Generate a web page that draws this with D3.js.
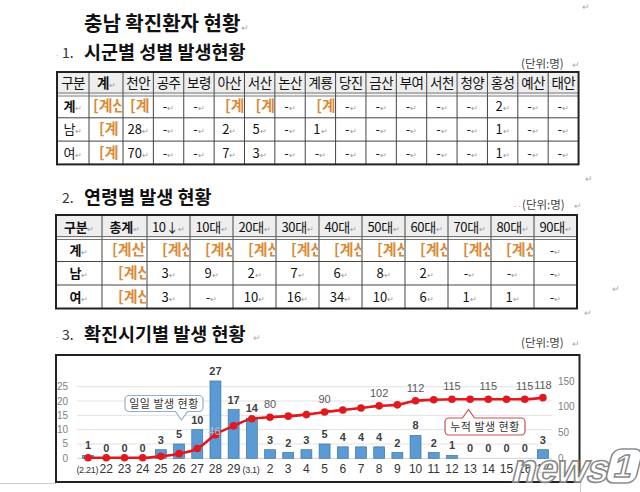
<!DOCTYPE html>
<html>
<head>
<meta charset="utf-8">
<script src="https://cdn.jsdelivr.net/npm/d3@7"></script>
<style>
body{margin:0;background:#fff;}
svg{display:block;font-family:"Noto Sans CJK KR",sans-serif;}
</style>
</head>
<body>
<div id="chart"></div>
<script>
// 1. 시군별 성별 발생현황
var regions = ['계','천안','공주','보령','아산','서산','논산','계룡','당진','금산','부여','서천','청양','홍성','예산','태안'];
var totalByRegion  = ['[계산식]','[계산식]','-','-','[계산식]','[계산식]','-','[계산식]','-','-','-','-','-','2','-','-'];
var maleByRegion   = ['[계산식]','28','-','-','2','5','-','1','-','-','-','-','-','1','-','-'];
var femaleByRegion = ['[계산식]','70','-','-','7','3','-','-','-','-','-','-','-','1','-','-'];

// 2. 연령별 발생 현황
var ages = ['총계','10↓','10대','20대','30대','40대','50대','60대','70대','80대','90대'];
var totalByAge  = ['[계산식]','[계산식]','[계산식]','[계산식]','[계산식]','[계산식]','[계산식]','[계산식]','[계산식]','[계산식]','-'];
var maleByAge   = ['[계산식]','3','9','2','7','6','8','2','-','-','-'];
var femaleByAge = ['[계산식]','3','-','10','16','34','10','6','1','1','-'];

// 3. 확진시기별 발생 현황
var dates = ['(2.21)','22','23','24','25','26','27','28','29','(3.1)','2','3','4','5','6','7','8','9','10','11','12','13','14','15','16','17'];
var daily = [1,0,0,0,3,5,10,27,17,14,3,2,3,5,4,4,4,2,8,2,1,0,0,0,0,3];
var cumulative = [1,1,1,1,4,9,19,46,63,77,80,82,85,90,94,98,102,104,112,114,115,115,115,115,115,118];
var cumLabelDates = ['28','2','5','8','10','12','14','16','17'];
var leftTicks = [0,5,10,15,20,25];
var rightTicks = [0,50,100,150];

var svg = d3.select('#chart').append('svg').attr('width',640).attr('height',492);
svg.append('rect').attr('width',640).attr('height',492).attr('fill','#fff');

// 문단 기호
function mark(x, y){
    svg.append('text').attr('x',x).attr('y',y).attr('font-size',9).attr('fill','#aaa').text('↵');
}

// 제목
svg.append('text').attr('x',84).attr('y',31).attr('font-size',20).attr('font-weight',700).attr('fill','#111').text('충남 확진환자 현황');
mark(241,31);

function sectionTitle(num, title, y){
    svg.append('text').attr('x',55).attr('y',y).attr('font-size',8).attr('fill','#aaa').text('·');
    svg.append('text').attr('x',62).attr('y',y).attr('font-size',14).attr('fill','#333').text(num);
    svg.append('text').attr('x',84).attr('y',y+1).attr('font-size',18.5).attr('font-weight',700).attr('fill','#111').text(title);
}
function unitLabel(x, y){
    svg.append('text').attr('x',x).attr('y',y).attr('font-size',11.5).attr('fill','#444').text('(단위:명)');
}

sectionTitle('1.', '시군별 성별 발생현황', 58);
unitLabel(521,68);
mark(572,68);

var clipId = 0;
function drawTable(opt){
    var g = svg.append('g');
    var xs = [opt.x];
    opt.widths.forEach(function(w,i){ xs.push(xs[i]+w); });
    var ys = [opt.y];
    opt.heights.forEach(function(h,i){ ys.push(ys[i]+h); });
    var right = xs[xs.length-1], bottom = ys[ys.length-1];

    // 머리행 배경
    g.append('rect').attr('x',xs[0]).attr('y',ys[0]).attr('width',right-xs[0]).attr('height',ys[1]-ys[0]).attr('fill','#eeeeee');

    // 셀 목록
    var cells = [];
    opt.rows.forEach(function(row, r){
        row.forEach(function(v, c){
            cells.push({r:r, c:c, v:v, x:xs[c], y:ys[r], w:xs[c+1]-xs[c], h:ys[r+1]-ys[r]});
        });
    });

    // 격자
    g.selectAll('line.v').data(xs.slice(1,-1)).enter().append('line')
        .attr('x1',function(d){return d;}).attr('x2',function(d){return d;})
        .attr('y1',ys[0]).attr('y2',bottom).attr('stroke','#444').attr('stroke-width',1);
    g.selectAll('line.h').data(ys.slice(2,-1)).enter().append('line')
        .attr('x1',xs[0]).attr('x2',right)
        .attr('y1',function(d){return d;}).attr('y2',function(d){return d;})
        .attr('stroke','#444').attr('stroke-width',1);
    // 머리행 이중선
    [ys[1]-1.5, ys[1]+1.5].forEach(function(yy){
        g.append('line').attr('x1',xs[0]).attr('x2',right).attr('y1',yy).attr('y2',yy).attr('stroke','#666').attr('stroke-width',0.9);
    });
    g.append('rect').attr('x',xs[0]).attr('y',ys[0]).attr('width',right-xs[0]).attr('height',bottom-ys[0])
        .attr('fill','none').attr('stroke','#222').attr('stroke-width',2);

    cells.forEach(function(d){
        var bold = opt.isBold(d);
        if(d.v.charAt(0) === '['){
            // 잘린 계산식 필드
            var id = 'clip' + (clipId++);
            g.append('clipPath').attr('id',id).append('rect')
                .attr('x',d.x+1).attr('y',d.y+1).attr('width',d.w-2).attr('height',d.h-2);
            var ft = g.append('text').attr('clip-path','url(#'+id+')')
                .attr('x',d.x+opt.fieldOffset(d)).attr('y',d.y+d.h/2+5)
                .attr('font-size',15).attr('font-weight',700).attr('fill','#d98a3a')
                .text(d.v);
            // 셀 밖으로 많이 나가는 글자는 버림
            var node = ft.node(), s = d.v;
            while(s.length > 1 && node.getStartPositionOfChar(s.length-1).x > d.x + d.w - 6){
                s = s.slice(0,-1);
                ft.text(s);
            }
        } else {
            var t = g.append('text').attr('x',d.x+d.w/2).attr('y',d.y+d.h/2+5)
                .attr('text-anchor','middle').attr('fill','#111')
                .attr('font-size',d.r===0 ? opt.headSize : 13)
                .attr('font-weight',bold?700:400)
                .attr('letter-spacing',d.r===0 ? opt.headSpacing : 0);
            t.append('tspan').text(d.v);
            if(opt.marks(d)) t.append('tspan').attr('font-size',8).attr('font-weight',400).attr('fill','#999').text('↵');
        }
    });
}

drawTable({
    x:57, y:72,
    widths:[32,34].concat(d3.range(15).map(function(){return 30.37;})),
    heights:[22.5,23.3,23.3,23.3],
    rows:[['구분'].concat(regions), ['계'].concat(totalByRegion), ['남'].concat(maleByRegion), ['여'].concat(femaleByRegion)],
    headSize:13.5, headSpacing:-0.6,
    fieldOffset:function(d){ return d.c===1 ? (d.r===1 ? 4 : 10) : (d.c===2 ? 7 : 11); },
    isBold:function(d){ return (d.r===0 && d.c===1) || (d.c===0 && d.r===1); },
    marks:function(d){ return !(d.r===0 && d.c!==1); }
});
mark(582,10);

sectionTitle('2.', '연령별 발생 현황', 203);
svg.append('text').attr('x',513).attr('y',209).attr('font-size',8).attr('fill','#999').text('··');
unitLabel(522,209);
mark(574,209);
mark(585,182);

drawTable({
    x:56, y:215,
    widths:[46,45].concat(d3.range(10).map(function(){return 43;})),
    heights:[23,23.5,23.5,23.5],
    rows:[['구분'].concat(ages), ['계'].concat(totalByAge), ['남'].concat(maleByAge), ['여'].concat(femaleByAge)],
    headSize:13, headSpacing:-0.3,
    fieldOffset:function(d){ return d.c===1 ? (d.r===1 ? 10 : 16) : 15; },
    isBold:function(d){ return (d.r===0 && d.c<2) || (d.c===0 && d.r>0); },
    marks:function(d){ return true; }
});
mark(612,292);
mark(584,316);

sectionTitle('3.', '확진시기별 발생 현황', 340);
mark(253,341);
unitLabel(521,347);
mark(572,347);

// 3. 차트
var chartBox = svg.append('g');
chartBox.append('line').attr('x1',0).attr('x2',56).attr('y1',483.5).attr('y2',483.5).attr('stroke','#ccc');
chartBox.append('line').attr('x1',580.5).attr('x2',580.5).attr('y1',482).attr('y2',492).attr('stroke','#ccc');

var x = d3.scaleBand().domain(dates).range([79,552]).paddingInner(0.4).paddingOuter(0.2);
var yL = d3.scaleLinear().domain([0,30]).range([458.3,372.4]);
var yR = d3.scaleLinear().domain([0,150]).range([458.3,381.2]);
var cx = function(d){ return x(d) + x.bandwidth()/2; };

var plot = svg.append('g');

// 격자선
plot.selectAll('line.grid').data(leftTicks.slice(1)).enter().append('line')
    .attr('x1',77).attr('x2',552)
    .attr('y1',function(d){return yL(d);}).attr('y2',function(d){return yL(d);})
    .attr('stroke','#e2e2e2').attr('stroke-width',1);
plot.append('line').attr('x1',77).attr('x2',552).attr('y1',yL(0)).attr('y2',yL(0)).attr('stroke','#d0d0d0');

// 축 눈금
plot.selectAll('text.yl').data(leftTicks).enter().append('text')
    .attr('x',68).attr('y',function(d){return yL(d)+3.5;})
    .attr('text-anchor','end').attr('font-family','Liberation Sans, sans-serif').attr('font-size',10).attr('fill','#808080')
    .text(function(d){return d;});
plot.selectAll('text.yr').data(rightTicks).enter().append('text')
    .attr('x',558).attr('y',function(d){return yR(d)+3.5;})
    .attr('font-family','Liberation Sans, sans-serif').attr('font-size',10).attr('fill','#808080')
    .text(function(d){return d;});

// 막대
plot.selectAll('rect.bar').data(dates).enter().append('rect')
    .attr('x',function(d){return x(d);})
    .attr('y',function(d,i){return yL(daily[i]);})
    .attr('width',x.bandwidth())
    .attr('height',function(d,i){return yL(0)-yL(daily[i]);})
    .attr('fill','#5b9bd5').attr('stroke','#41719c').attr('stroke-width',0.7);

// 일일 값 라벨
plot.selectAll('text.daily').data(dates).enter().append('text')
    .attr('x',function(d){return cx(d);})
    .attr('y',function(d,i){return yL(daily[i])-6;})
    .attr('text-anchor','middle').attr('font-family','Liberation Sans, sans-serif')
    .attr('font-size',11).attr('font-weight',700).attr('fill','#404040')
    .text(function(d,i){return daily[i];});

// x축 라벨
plot.selectAll('text.xl').data(dates).enter().append('text')
    .attr('x',function(d){return cx(d) - (d.charAt(0)==='(' ? 0.8 : 0);})
    .attr('y',473)
    .attr('text-anchor','middle').attr('font-family','Liberation Sans, sans-serif')
    .attr('font-size',function(d){return d.charAt(0)==='(' ? 9 : 12;})
    .attr('letter-spacing',function(d){return d.charAt(0)==='(' ? -0.3 : 0;})
    .attr('fill','#333')
    .text(function(d){return d;});

// 누적 선
var line = d3.line()
    .x(function(d){return cx(d);})
    .y(function(d,i){return yR(cumulative[i]);})
    .curve(d3.curveMonotoneX);
plot.append('path').datum(dates).attr('d',line)
    .attr('fill','none').attr('stroke','#e0191f').attr('stroke-width',2.6);
plot.selectAll('circle.cum').data(dates).enter().append('circle')
    .attr('cx',function(d){return cx(d);})
    .attr('cy',function(d,i){return yR(cumulative[i]);})
    .attr('r',3.8).attr('fill','#e0191f');

// 누적 값 라벨
plot.selectAll('text.cum').data(cumLabelDates).enter().append('text')
    .each(function(d){
        var i = dates.indexOf(d);
        var inside = yL(daily[i]) < yR(cumulative[i]) - 14;
        d3.select(this)
            .attr('x',cx(d) - (inside ? 1 : 0))
            .attr('y',inside ? yR(cumulative[i]) : yR(cumulative[i]) - 9)
            .attr('fill',inside ? '#a9bdd6' : '#595959')
            .text(cumulative[i]);
    })
    .attr('text-anchor','middle').attr('font-family','Liberation Sans, sans-serif').attr('font-size',11);

// 말풍선
function callout(bx, by, bw, bh, tipX, tipY, color, label){
    var g = svg.append('g');
    var up = tipY < by;
    var p = d3.path();
    var r = 4;
    p.moveTo(bx+r, by);
    if(up){ p.lineTo(tipX-6, by); p.lineTo(tipX, tipY); p.lineTo(tipX+6, by); }
    p.lineTo(bx+bw-r, by); p.arcTo(bx+bw, by, bx+bw, by+r, r);
    p.lineTo(bx+bw, by+bh-r); p.arcTo(bx+bw, by+bh, bx+bw-r, by+bh, r);
    if(!up){ p.lineTo(tipX+6, by+bh); p.lineTo(tipX, tipY); p.lineTo(tipX-6, by+bh); }
    p.lineTo(bx+r, by+bh); p.arcTo(bx, by+bh, bx, by+bh-r, r);
    p.lineTo(bx, by+r); p.arcTo(bx, by, bx+r, by, r);
    p.closePath();
    g.append('path').attr('d',p.toString()).attr('fill','#fff').attr('stroke',color).attr('stroke-width',1.2);
    g.append('text').attr('x',bx+bw/2).attr('y',by+bh/2+4).attr('text-anchor','middle')
        .attr('font-size',11).attr('fill','#333').attr('letter-spacing',0.5).text(label);
}
callout(125,395.5,78,16,181.5,420,'#8fb2d2','일일 발생 현황');
callout(445,418,80,17,468.5,409.5,'#c9514e','누적 발생 현황');

// 차트 테두리
svg.append('rect').attr('x',56).attr('y',355).attr('width',523.5).attr('height',127)
    .attr('fill','none').attr('stroke','#222').attr('stroke-width',2);

// 워터마크
var wm = svg.append('g').attr('transform','translate(510,482) skewX(-14)');
wm.append('text').attr('x',0).attr('y',0)
    .attr('font-family','Liberation Sans, sans-serif').attr('font-size',40).attr('font-weight',700)
    .attr('letter-spacing',-1).attr('fill','#fff').attr('fill-opacity',0.9)
    .attr('stroke','#8a8a8a').attr('stroke-width',1.6).text('news');
wm.append('rect').attr('x',95).attr('y',-33).attr('width',30).attr('height',34).attr('rx',8)
    .attr('fill','#fff').attr('fill-opacity',0.9).attr('stroke','#8a8a8a').attr('stroke-width',1.6);
wm.append('text').attr('x',110).attr('y',-5).attr('text-anchor','middle')
    .attr('font-family','Liberation Sans, sans-serif').attr('font-size',32).attr('font-weight',700)
    .attr('fill','#fff').attr('stroke','#8a8a8a').attr('stroke-width',1.6).text('1');
</script>
</body>
</html>
